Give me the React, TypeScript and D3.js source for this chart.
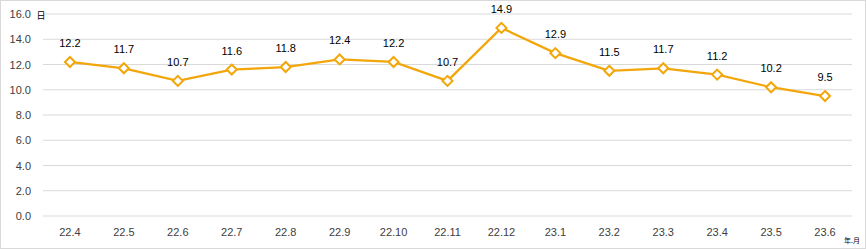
import React from "react";
import * as d3 from "d3";

const categories = ["22.4","22.5","22.6","22.7","22.8","22.9","22.10","22.11","22.12","23.1","23.2","23.3","23.4","23.5","23.6"];
const values = [12.2,11.7,10.7,11.6,11.8,12.4,12.2,10.7,14.9,12.9,11.5,11.7,11.2,10.2,9.5];
const yTicks = [0,2,4,6,8,10,12,14,16];

export default function App() {
  const W = 866, H = 249;
  const left = 43, right = 852, top = 14, bottom = 216;
  const x = d3.scaleBand<string>().domain(categories).range([left, right]);
  const y = d3.scaleLinear().domain([0, 16]).range([bottom, top]);
  const line = d3.line<number>()
    .x((_, i) => x(categories[i])! + x.bandwidth() / 2)
    .y((d) => y(d));
  const color = "#F2A60A";
  const font = "'Liberation Sans', Arial, sans-serif";
  return (
    <svg width={W} height={H} style={{ position: "absolute", left: 0, top: 0 }}>
      <rect x={0.5} y={0.5} width={W - 1} height={H - 1} fill="#fff" stroke="#d9d9d9" />
      {yTicks.map((t) => (
        <g key={t}>
          <line x1={left} x2={right} y1={y(t)} y2={y(t)} stroke="#d9d9d9" strokeWidth={1} />
          <text x={31} y={y(t) + 4} textAnchor="end" fontSize={11} fontFamily={font} fill="#404040">{t.toFixed(1)}</text>
        </g>
      ))}
      {categories.map((c) => (
        <text key={c} x={x(c)! + x.bandwidth() / 2} y={236} textAnchor="middle" fontSize={11} fontFamily={font} fill="#404040">{c}</text>
      ))}
      <text x={41} y={19} textAnchor="middle" fontSize={9} fontFamily="'Noto Sans CJK KR', sans-serif" fill="#000">日</text>
      <text x={852} y={243} textAnchor="middle" fontSize={7} fontFamily="'Noto Sans CJK KR', sans-serif" fill="#000">年.月</text>
      <path d={line(values) || ""} fill="none" stroke={color} strokeWidth={2.25} />
      {values.map((v, i) => {
        const cx = x(categories[i])! + x.bandwidth() / 2;
        const cy = y(v);
        const s = 5;
        return (
          <g key={i}>
            <path d={`M${cx},${cy - s}L${cx + s},${cy}L${cx},${cy + s}L${cx - s},${cy}Z`} fill="#fff" stroke={color} strokeWidth={2} />
            <text x={cx} y={cy - 15} textAnchor="middle" fontSize={11} fontFamily={font} fill="#000">{v.toFixed(1)}</text>
          </g>
        );
      })}
    </svg>
  );
}
